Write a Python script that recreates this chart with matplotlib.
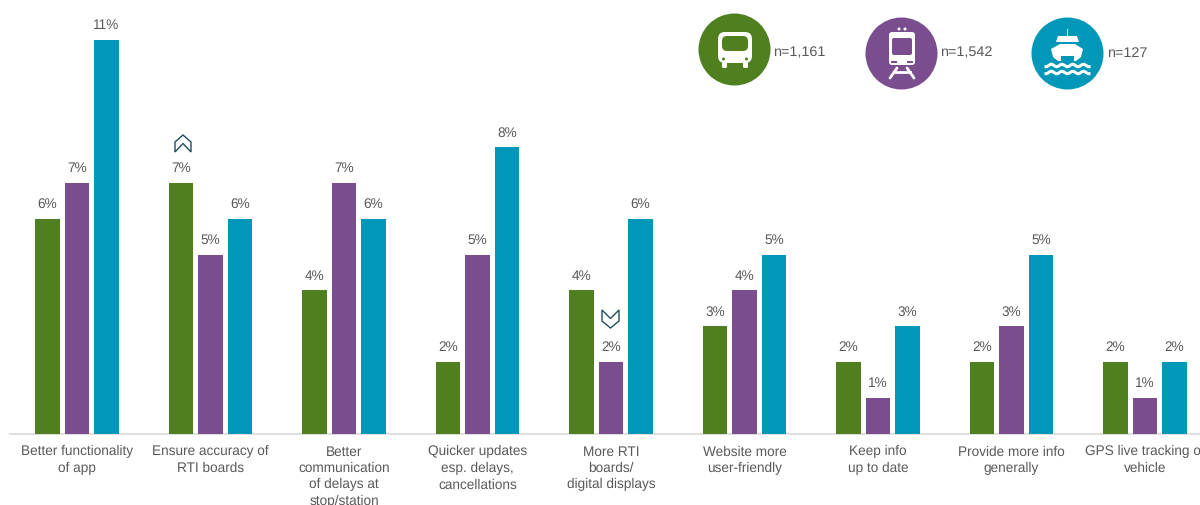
import matplotlib
matplotlib.use('Agg')
import matplotlib.pyplot as plt
from matplotlib.patches import Circle, FancyBboxPatch, Polygon, Rectangle
import numpy as np

plt.rcParams['font.family'] = ['Liberation Sans', 'DejaVu Sans']
plt.rcParams['text.hinting'] = 'none'

categories = ['Better functionality\nof app', 'Ensure accuracy of\nRTI boards',
              'Better\ncommunication\nof delays at\nstop/station', 'Quicker updates\nesp. delays,\ncancellations',
              'More RTI\nboards/\ndigital displays', 'Website more\nuser-friendly', 'Keep info\nup to date',
              'Provide more info\ngenerally', 'GPS live tracking of\nvehicle']
bus = [6, 7, 4, 2, 4, 3, 2, 2, 2]
train = [7, 5, 7, 5, 2, 4, 1, 3, 1]
ferry = [11, 6, 6, 8, 6, 5, 3, 5, 2]
sample_sizes = ['n=1,161', 'n=1,542', 'n=127']

GREEN = '#4f7f1f'
PURPLE = '#7a4d8f'
TEAL = '#0097b8'
TEXT = '#595959'
ARROW = '#1f4e5f'
FONT = 9.85

fig = plt.figure(figsize=(12.0, 5.06), dpi=100)

# main axes fill the figure, baseline sits at y=0
ax = fig.add_axes([0, 0, 1, 1])
ax.set_xlim(-77/133.5, (1200-77)/133.5)
ax.set_ylim(-71.5/35.8, 434.5/35.8)
ax.axis('off')

x = np.arange(len(categories))
offset = 0.221
width = 0.18
for vals, col, d in [(bus, GREEN, -offset), (train, PURPLE, 0), (ferry, TEAL, offset)]:
    ax.bar(x + d, vals, width=width, color=col)
    for xi, v in zip(x, vals):
        ax.text(xi + d, v + 0.24, '%d%%' % v, ha='center', va='bottom', fontsize=FONT, color=TEXT)

ax.plot([-67/133.5, (1200-77)/133.5], [0, 0], color='#d9d9d9', lw=1.2, zorder=0)

for xi, label in zip(x, categories):
    ax.text(xi, -0.3, label, ha='center', va='top', fontsize=FONT, color=TEXT, linespacing=1.35)

# overlay in pixel units for the chevrons and mode icons
ov = fig.add_axes([0, 0, 1, 1])
ov.set_xlim(0, 1200)
ov.set_ylim(506, 0)
ov.axis('off')
ov.patch.set_alpha(0)

for pts in ([(175, 143), (183, 136), (191, 143), (191, 153), (183, 144.5), (175, 153)],
            [(602, 311), (610.5, 319.5), (619, 311), (619, 322), (610.5, 329), (602, 322)]):
    ov.add_patch(Polygon(pts, closed=True, fill=False, ec=ARROW, lw=1.0))

def rrect(x0, y0, w, h, r, color, z=3):
    ov.add_patch(FancyBboxPatch((x0+r, y0+r), w-2*r, h-2*r, boxstyle='round,pad=%g,rounding_size=%g' % (r, r),
                                fc=color, ec='none', zorder=z))

# bus
ov.add_patch(Circle((734.5, 50.5), 36, fc=GREEN, ec='none'))
rrect(718, 33, 34, 31, 7, 'white')
rrect(722, 37, 26, 15, 5, GREEN, 4)
rrect(722, 62, 5, 7, 1.5, 'white')
rrect(743, 62, 5, 7, 1.5, 'white')
ov.add_patch(Circle((723.5, 60), 1.5, fc=GREEN, ec='none', zorder=4))
ov.add_patch(Circle((746.5, 60), 1.5, fc=GREEN, ec='none', zorder=4))

# train
ov.add_patch(Circle((901.5, 54.5), 36, fc=PURPLE, ec='none'))
rrect(889, 33, 26, 33, 3, 'white')
rrect(892, 39, 20, 17, 2, PURPLE, 4)
ov.add_patch(Circle((899, 30), 1.5, fc='white', ec='none'))
ov.add_patch(Circle((905, 30), 1.5, fc='white', ec='none'))
ov.add_patch(Rectangle((891, 62), 6, 1.5, fc=PURPLE, ec='none', zorder=4))
ov.add_patch(Rectangle((907, 62), 6, 1.5, fc=PURPLE, ec='none', zorder=4))
ov.plot([897, 890], [69, 79], color='white', lw=2, solid_capstyle='round', zorder=3)
ov.plot([907, 914], [69, 79], color='white', lw=2, solid_capstyle='round', zorder=3)
ov.plot([894, 910], [73, 73], color='white', lw=2, zorder=3)

# ferry
ov.add_patch(Circle((1067.5, 54.5), 36, fc=TEAL, ec='none'))
ov.add_patch(Polygon([(1051, 50), (1060, 45), (1075, 45), (1083, 50), (1081, 58), (1076, 62), (1058, 62), (1053, 58)],
                     fc='white', ec='none', zorder=3))
ov.add_patch(Polygon([(1056, 43), (1058, 37), (1077, 37), (1079, 43)], fc='white', ec='none', zorder=3))
ov.add_patch(Rectangle((1066.5, 30), 1.4, 8, fc='white', ec='none', zorder=3))
ov.add_patch(Rectangle((1061, 57), 13, 5, fc=TEAL, ec='none', zorder=4))
for wy in [66.5, 73.5]:
    wx = np.linspace(1046, 1089, 60)
    ov.plot(wx, wy + 1.2*np.cos((wx-1046)/10.7*2*np.pi), color='white', lw=2.2, zorder=3)

for tx, s in zip([773, 940, 1107], sample_sizes):
    ov.text(tx, 53, s, ha='left', va='center', fontsize=10.4, color=TEXT)

fig.savefig('out.png', dpi=100)
